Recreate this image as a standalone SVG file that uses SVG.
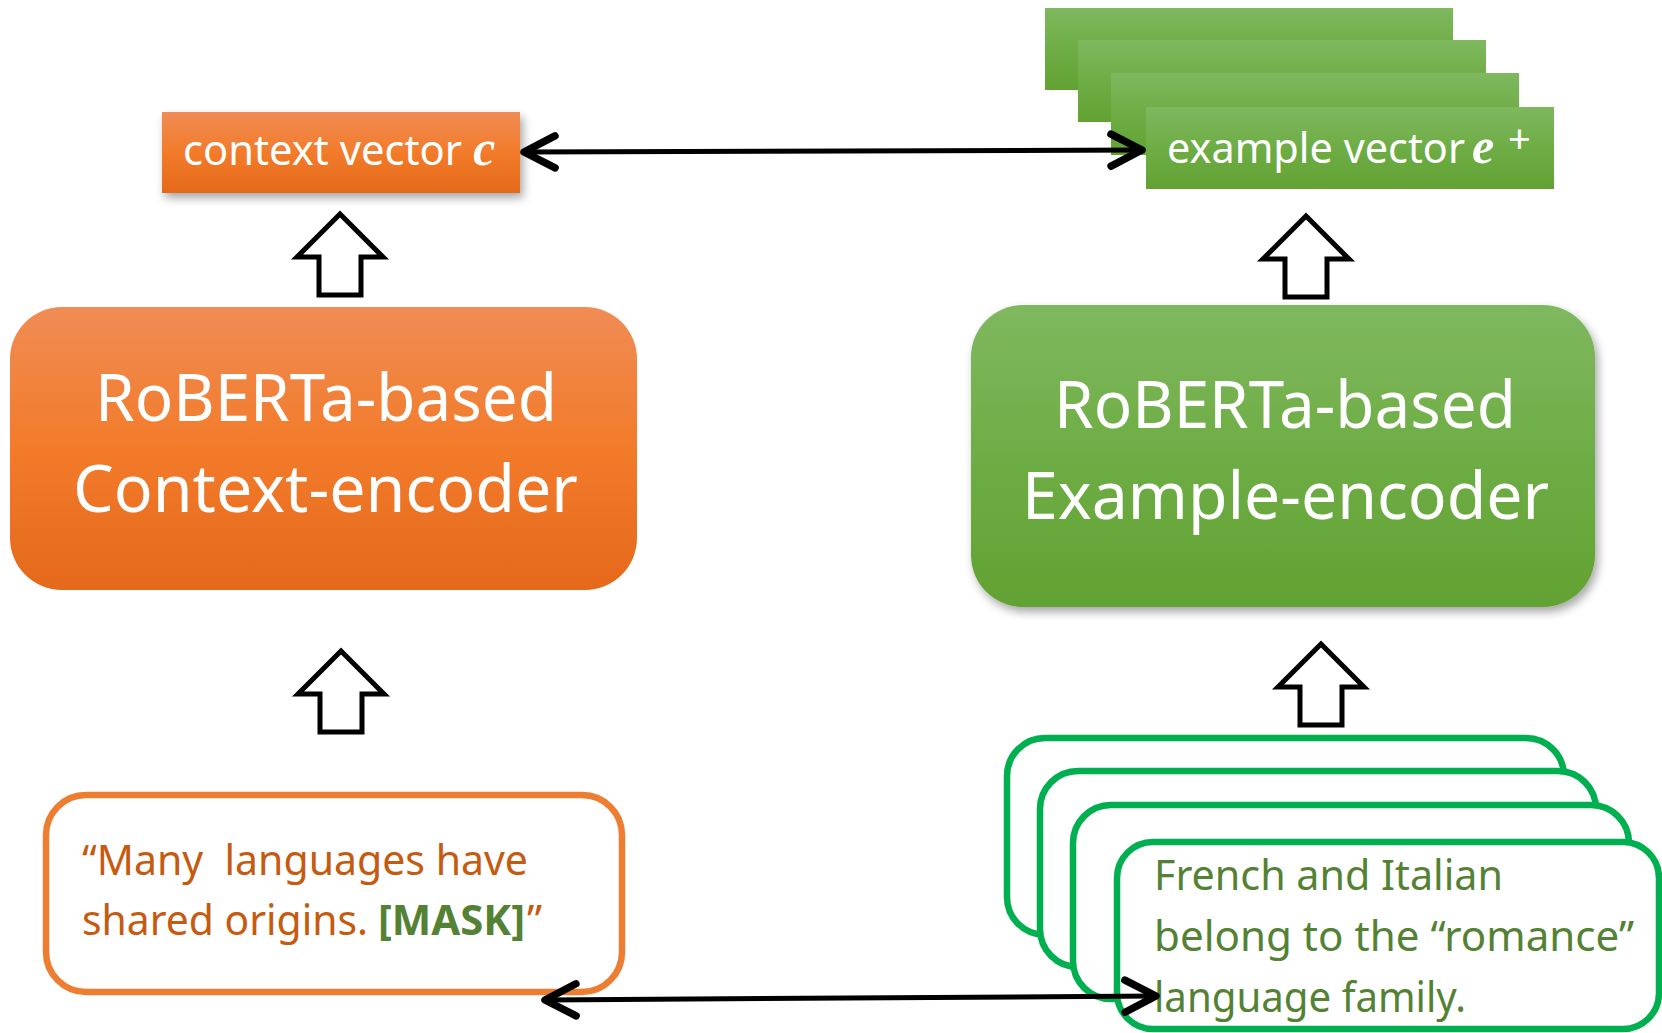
<svg xmlns="http://www.w3.org/2000/svg" width="1662" height="1033" viewBox="0 0 1662 1033">
  <style>
    .sans { font-family: "Noto Sans", "Open Sans", "Liberation Sans", sans-serif; white-space: pre; }
    .math { font-family: "Liberation Serif", "DejaVu Serif", serif; font-style: italic; font-weight: bold; font-size: 50px; }
    .white { fill: #ffffff; }
    .big { font-size: 65px; }
    .mid { font-size: 42px; }
    .ctx { fill: #C55A11; }
    .ex { fill: #548235; }
    .mask { fill: #548235; font-weight: bold; font-size: 40.5px; }
    .hollow { fill: #ffffff; stroke: #000000; stroke-width: 5; stroke-linejoin: miter; }
    .exbox { fill: #ffffff; stroke: #00B050; stroke-width: 6.5; }
    .link { stroke: #000000; stroke-width: 5; fill: none; marker-start: url(#chev); marker-end: url(#chev); }
  </style>
  <defs>
    <linearGradient id="orangeFill" x1="0" y1="0" x2="0" y2="1">
      <stop offset="0" stop-color="#F08C55"/>
      <stop offset="0.5" stop-color="#F27B2A"/>
      <stop offset="1" stop-color="#E5691B"/>
    </linearGradient>
    <linearGradient id="greenFill" x1="0" y1="0" x2="0" y2="1">
      <stop offset="0" stop-color="#7FB85F"/>
      <stop offset="0.5" stop-color="#6EAD45"/>
      <stop offset="1" stop-color="#62A233"/>
    </linearGradient>
    <filter id="shadow" x="-10%" y="-20%" width="125%" height="150%">
      <feDropShadow dx="3" dy="5" stdDeviation="5" flood-color="#000000" flood-opacity="0.35"/>
    </filter>
    <marker id="chev" markerUnits="userSpaceOnUse" viewBox="-40 -22 48 44" refX="0" refY="0" markerWidth="48" markerHeight="44" orient="auto-start-reverse">
      <path d="M-31,-16 L0,0 L-31,16" fill="none" stroke="#000000" stroke-width="7.5" stroke-linecap="round" stroke-linejoin="round"/>
    </marker>
    <path id="upArrow" class="hollow" d="M0,0 L43,43 L21,43 L21,81 L-21,81 L-21,43 L-43,43 Z"/>
  </defs>

  <rect width="1662" height="1033" fill="#ffffff"/>

  <!-- context vector output -->
  <g id="context-vector">
    <rect x="162" y="112" width="358" height="81" fill="url(#orangeFill)" filter="url(#shadow)"/>
    <text class="sans mid white" x="183" y="165"><tspan textLength="279" lengthAdjust="spacingAndGlyphs">context vector</tspan><tspan class="math" x="473">c</tspan></text>
  </g>

  <!-- stack of example vectors -->
  <g id="example-vectors">
    <rect x="1045" y="8" width="408" height="82" fill="url(#greenFill)"/>
    <rect x="1078" y="40" width="408" height="82" fill="url(#greenFill)"/>
    <rect x="1111" y="73" width="408" height="82" fill="url(#greenFill)"/>
    <rect x="1146" y="107" width="408" height="82" fill="url(#greenFill)"/>
    <text class="sans mid white" x="1167" y="163"><tspan textLength="298" lengthAdjust="spacingAndGlyphs">example vector</tspan><tspan class="math" x="1472">e</tspan><tspan x="1508" y="153" font-size="40">+</tspan></text>
  </g>

  <!-- context encoder -->
  <g id="context-encoder">
    <rect x="10" y="307" width="627" height="283" rx="52" ry="52" fill="url(#orangeFill)"/>
    <text class="sans big white" x="95" y="421" textLength="462" lengthAdjust="spacingAndGlyphs">RoBERTa-based</text>
    <text class="sans big white" x="73" y="512" textLength="505" lengthAdjust="spacingAndGlyphs">Context-encoder</text>
  </g>

  <!-- example encoder -->
  <g id="example-encoder">
    <rect x="971" y="305" width="624" height="302" rx="52" ry="52" fill="url(#greenFill)" filter="url(#shadow)"/>
    <text class="sans big white" x="1054" y="428" textLength="462" lengthAdjust="spacingAndGlyphs">RoBERTa-based</text>
    <text class="sans big white" x="1022" y="519" textLength="527" lengthAdjust="spacingAndGlyphs">Example-encoder</text>
  </g>

  <!-- masked context input -->
  <g id="context-input">
    <rect x="46" y="795" width="576" height="197" rx="40" ry="40" fill="#ffffff" stroke="#ED7D31" stroke-width="6.5"/>
    <text class="sans mid ctx" x="82" y="875" textLength="446" lengthAdjust="spacingAndGlyphs">“Many  languages have</text>
    <text class="sans mid ctx" x="82" y="935"><tspan textLength="286" lengthAdjust="spacingAndGlyphs">shared origins.</tspan><tspan class="mask" x="378" textLength="147" lengthAdjust="spacingAndGlyphs">[MASK]</tspan><tspan x="527">”</tspan></text>
  </g>

  <!-- stack of example inputs -->
  <g id="example-inputs">
    <rect class="exbox" x="1007" y="738" width="557" height="197" rx="38" ry="38"/>
    <rect class="exbox" x="1040" y="771" width="556" height="196" rx="38" ry="38"/>
    <rect class="exbox" x="1073" y="805" width="556" height="194" rx="38" ry="38"/>
    <rect class="exbox" x="1117" y="842" width="542" height="187" rx="36" ry="36"/>
    <text class="sans mid ex" x="1154" y="890" textLength="349" lengthAdjust="spacingAndGlyphs">French and Italian</text>
    <text class="sans mid ex" x="1154" y="951" textLength="480" lengthAdjust="spacingAndGlyphs">belong to the “romance”</text>
    <text class="sans mid ex" x="1154" y="1012" textLength="312" lengthAdjust="spacingAndGlyphs">language family.</text>
  </g>

  <!-- flow arrows between stages -->
  <g id="flow-arrows">
    <use href="#upArrow" x="340" y="214"/>
    <use href="#upArrow" x="341" y="651"/>
    <use href="#upArrow" x="1306" y="216"/>
    <use href="#upArrow" x="1321" y="644"/>
  </g>

  <!-- similarity connectors -->
  <g id="connectors">
    <line class="link" x1="524" y1="152" x2="1142" y2="150"/>
    <line class="link" x1="545" y1="1000" x2="1156" y2="996"/>
  </g>
</svg>
